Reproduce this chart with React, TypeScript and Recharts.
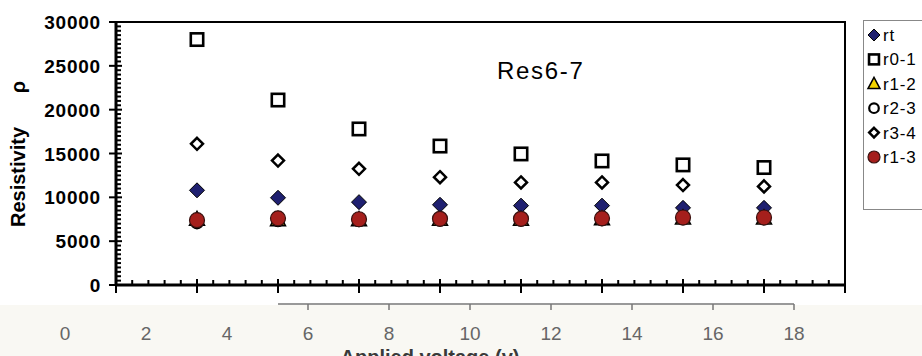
import React from 'react';
import { ScatterChart, Scatter, XAxis, YAxis, ReferenceArea, ReferenceLine, Legend } from 'recharts';

// applied voltage of each measurement (original chart axis)
const voltage = [2, 4, 6, 8, 10, 12, 14, 16];
const rt = [10800, 9950, 9450, 9150, 9050, 9050, 8800, 8800];
const r01 = [28000, 21100, 17800, 15850, 14950, 14150, 13700, 13400];
const r12 = [7500, 7450, 7450, 7500, 7500, 7550, 7650, 7650];
const r23 = [7150, 7400, 7400, 7450, 7450, 7500, 7600, 7600];
const r34 = [16100, 14200, 13250, 12300, 11700, 11700, 11400, 11250];
const r13 = [7400, 7600, 7500, 7550, 7550, 7600, 7700, 7700];

const yMajorTicks = [0, 5000, 10000, 15000, 20000, 25000, 30000];
const stripTicks = [0, 2, 4, 6, 8, 10, 12, 14, 16, 18];

// minor tick positions
const yTicks = Array.from({ length: 61 }, (_, i) => i * 500);
const xTicks = Array.from({ length: 46 }, (_, i) => Math.round(i * 4) / 10);

const FONT = '"Liberation Sans", Arial, sans-serif';
const NAVY = '#1f2070';
const RED = '#a51f1c';
const YELLOW = '#f4d500';

type MarkerFn = (cx: number, cy: number, s?: number) => React.ReactElement;

const markers: Record<string, MarkerFn> = {
  rt: (cx, cy, s = 1) => (
    <path d={`M${cx},${cy - 7.5 * s} L${cx + 7.5 * s},${cy} L${cx},${cy + 7.5 * s} L${cx - 7.5 * s},${cy} Z`} fill={NAVY} stroke="#000" strokeWidth={1} />
  ),
  'r0-1': (cx, cy, s = 1) => (
    <rect x={cx - 6.2 * s} y={cy - 6.2 * s} width={12.4 * s} height={12.4 * s} fill="#fff" stroke="#000" strokeWidth={2.6} />
  ),
  'r1-2': (cx, cy, s = 1) => (
    <path d={`M${cx},${cy - 8 * s} L${cx + 7.5 * s},${cy + 6 * s} L${cx - 7.5 * s},${cy + 6 * s} Z`} fill={YELLOW} stroke="#000" strokeWidth={1.5} />
  ),
  'r2-3': (cx, cy, s = 1) => (
    <circle cx={cx} cy={cy} r={6 * s} fill="#fff" stroke="#000" strokeWidth={2.2} />
  ),
  'r3-4': (cx, cy, s = 1) => (
    <path d={`M${cx},${cy - 6 * s} L${cx + 6 * s},${cy} L${cx},${cy + 6 * s} L${cx - 6 * s},${cy} Z`} fill="#fff" stroke="#000" strokeWidth={2.5} />
  ),
  'r1-3': (cx, cy, s = 1) => (
    <circle cx={cx} cy={cy} r={7.5 * s} fill={RED} stroke="#3a1210" strokeWidth={1.2} />
  ),
};

const series = [
  { name: 'rt', values: rt },
  { name: 'r0-1', values: r01 },
  { name: 'r1-2', values: r12 },
  { name: 'r2-3', values: r23 },
  { name: 'r3-4', values: r34 },
  { name: 'r1-3', values: r13 },
];

const YTick = (props: any) => {
  const { x, y, payload } = props;
  const v = payload.value;
  const major = yMajorTicks.includes(v);
  return (
    <g>
      <line x1={major ? x - 7 : x} x2={x + (major ? 6 : 5)} y1={y} y2={y} stroke="#000" strokeWidth={2} />
      {major && (
        <text x={x - 15} y={y} dy={7} textAnchor="end" fontFamily={FONT} fontWeight="bold" fontSize={19} letterSpacing={0.8} fill="#000">
          {v}
        </text>
      )}
    </g>
  );
};

const XTick = (props: any) => {
  const { x, y, payload } = props;
  const v = payload.value;
  const major = Math.abs(v / 2 - Math.round(v / 2)) < 1e-6;
  return <line x1={x} x2={x} y1={y - (major ? 6 : 5)} y2={y + (major ? 8 : 0)} stroke="#000" strokeWidth={2} />;
};

const StripTick = (props: any) => {
  const { x, y, payload } = props;
  const v = payload.value;
  return (
    <g>
      {v >= 6 && <line x1={x} x2={x} y1={y - 1} y2={y + 5} stroke="#777" strokeWidth={1.5} />}
      <text x={x} y={y + 35} textAnchor="middle" fontFamily={FONT} fontSize={19} fill="#666">
        {v}
      </text>
    </g>
  );
};

const YTitle = () => (
  <g fontFamily={FONT} fontWeight="bold" fontSize={20} fill="#000">
    <text x={25} y={177} textAnchor="middle" transform="rotate(-90, 25, 177)">Resistivity</text>
    <text x={25} y={87} textAnchor="middle" transform="rotate(-90, 25, 87)">ρ</text>
  </g>
);

const XTitle = () => (
  <text x={430} y={68} textAnchor="middle" fontFamily={FONT} fontWeight="bold" fontSize={20} fill="#3a3a3a">
    Applied voltage  (v)
  </text>
);

const LegendBox = () => (
  <svg width={80} height={191} style={{ display: 'block' }}>
    <rect x={0.5} y={0.5} width={90} height={189} fill="#fff" stroke="#888" strokeWidth={1} />
    {series.map((s, i) => {
      const cy = 15 + i * 24.4;
      return (
        <g key={s.name}>
          {markers[s.name](11, cy, 0.8)}
          <text x={20} y={cy + 6} fontFamily={FONT} fontSize={17} letterSpacing={0.8} fill="#000">
            {s.name}
          </text>
        </g>
      );
    })}
  </svg>
);

export default function App() {
  return (
    <div style={{ position: 'fixed', left: 0, top: 0, width: 922, height: 356, overflow: 'hidden', background: '#fff' }}>
      <div style={{ position: 'absolute', left: 0, top: 305, width: 922, height: 51, background: '#f9f8f3' }} />

      <div style={{ position: 'absolute', left: 0, top: 0 }}>
        <ScatterChart width={922} height={300} margin={{ top: 22, right: 77, left: 16, bottom: 0 }}>
          <XAxis
            type="number"
            dataKey="x"
            domain={[0, 18]}
            ticks={xTicks}
            interval={0}
            height={15}
            tickSize={0}
            tickMargin={0}
            tickLine={false}
            tick={<XTick />}
            axisLine={{ stroke: '#000', strokeWidth: 3 }}
          />
          <YAxis
            type="number"
            dataKey="y"
            domain={[0, 30000]}
            ticks={yTicks}
            interval={0}
            width={100}
            tickSize={0}
            tickMargin={0}
            tickLine={false}
            tick={<YTick />}
            axisLine={{ stroke: '#000', strokeWidth: 3 }}
            label={{ content: () => <YTitle /> }}
          />
          <ReferenceArea x1={0} x2={18} y1={0} y2={30000} fill="none" stroke="#000" strokeWidth={2} />
          {series.map((s) => (
            <Scatter
              key={s.name}
              name={s.name}
              data={voltage.map((v, i) => ({ x: v, y: s.values[i] }))}
              isAnimationActive={false}
              shape={(p: any) => markers[s.name](p.cx, p.cy)}
            />
          ))}
          <Legend
            layout="vertical"
            align="center"
            verticalAlign="middle"
            wrapperStyle={{ position: 'absolute', left: 863, top: 20, width: 80, height: 191 }}
            content={() => <LegendBox />}
          />
        </ScatterChart>
      </div>

      <div
        style={{
          position: 'absolute',
          left: 497,
          top: 57,
          fontFamily: FONT,
          fontSize: 24,
          letterSpacing: 1.7,
          color: '#000',
        }}
      >
        Res6-7
      </div>

      {/* overlaid voltage axis strip */}
      <div style={{ position: 'absolute', left: 0, top: 296 }}>
        <ScatterChart width={922} height={60} margin={{ top: 8, right: 128, left: 65, bottom: 0 }}>
          <XAxis
            type="number"
            dataKey="x"
            domain={[0, 18]}
            allowDataOverflow
            ticks={stripTicks}
            interval={0}
            height={51}
            tickSize={0}
            tickMargin={0}
            tickLine={false}
            axisLine={false}
            tick={<StripTick />}
            label={{ content: () => <XTitle /> }}
          />
          <YAxis type="number" dataKey="y" domain={[0, 1]} allowDataOverflow hide />
          <ReferenceLine
            segment={[
              { x: 5.26, y: 1 },
              { x: 18, y: 1 },
            ]}
            stroke="#777"
            strokeWidth={1.5}
            ifOverflow="visible"
          />
          <Scatter data={[{ x: 0, y: -1 }]} isAnimationActive={false} shape={() => <g />} />
        </ScatterChart>
      </div>
    </div>
  );
}
